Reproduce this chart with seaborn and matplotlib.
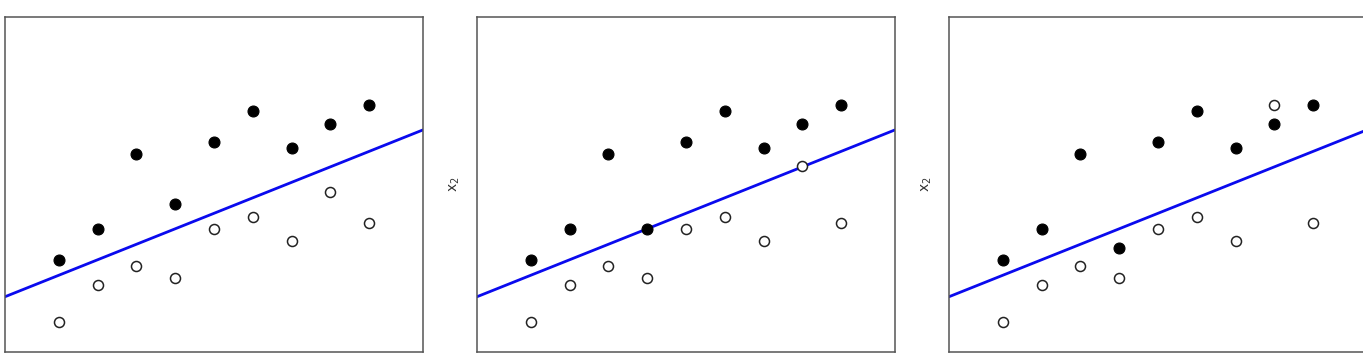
import numpy as np
import pandas as pd
import matplotlib
matplotlib.use("Agg")
import matplotlib.pyplot as plt
import seaborn as sns

# point positions along x1 (same for all three panels)
x_pos = [1, 2, 3, 4, 5, 6, 7, 8, 9]

# class "filled" and class "open" heights, one list per panel
filled_1 = [2.75, 3.67, 5.91, 4.42, 6.27, 7.19, 6.09, 6.81, 7.37]
open_1 = [0.90, 2.01, 2.57, 2.20, 3.67, 4.04, 3.30, 4.79, 3.86]

filled_2 = [2.75, 3.67, 5.91, 3.67, 6.27, 7.19, 6.09, 6.81, 7.37]
open_2 = [0.90, 2.01, 2.57, 2.20, 3.67, 4.04, 3.30, 5.55, 3.86]

filled_3 = [2.75, 3.67, 5.91, 3.11, 6.27, 7.19, 6.09, 6.81, 7.37]
open_3 = [0.90, 2.01, 2.57, 2.20, 3.67, 4.04, 3.30, 7.37, 3.86]

# separating line x2 = intercept + slope * x1
line_intercept = 1.83
line_slope = 0.462

panels = [(filled_1, open_1), (filled_2, open_2), (filled_3, open_3)]

sns.set_theme(style="white")

W, H = 1363, 358
fig = plt.figure(figsize=(W / 100, H / 100), dpi=100)

lefts = [5, 477, 949]
for i, (filled, hollow) in enumerate(panels):
    ax = fig.add_axes([lefts[i] / W, 6 / H, 418 / W, 335 / H])
    df_f = pd.DataFrame({"x1": x_pos, "x2": filled})
    df_o = pd.DataFrame({"x1": x_pos, "x2": hollow})

    sns.scatterplot(data=df_f, x="x1", y="x2", ax=ax, color="black",
                    s=62, edgecolor="black", linewidth=0.8, zorder=3)
    sns.scatterplot(data=df_o, x="x1", y="x2", ax=ax, color="white",
                    s=52, edgecolor="#222222", linewidth=1.1, zorder=3)
    ax.axline((0, line_intercept), slope=line_slope, color="#0a0aee",
              linewidth=2.0, zorder=2)

    ax.set_xlim(1 - 1.39, 9 + 1.39)
    ax.set_ylim(0, 10)
    ax.set_xticks([])
    ax.set_yticks([])
    ax.set_xlabel("")
    # the first panel's label sits outside the cropped picture
    if i > 0:
        ax.set_ylabel("x$_2$", fontsize=10, color="#333333")
        ax.yaxis.set_label_coords(-0.035, 0.5)
    else:
        ax.set_ylabel("")
    for sp in ax.spines.values():
        sp.set_color("#555555")
        sp.set_linewidth(1.1)

fig.savefig("out.png", dpi=100)
